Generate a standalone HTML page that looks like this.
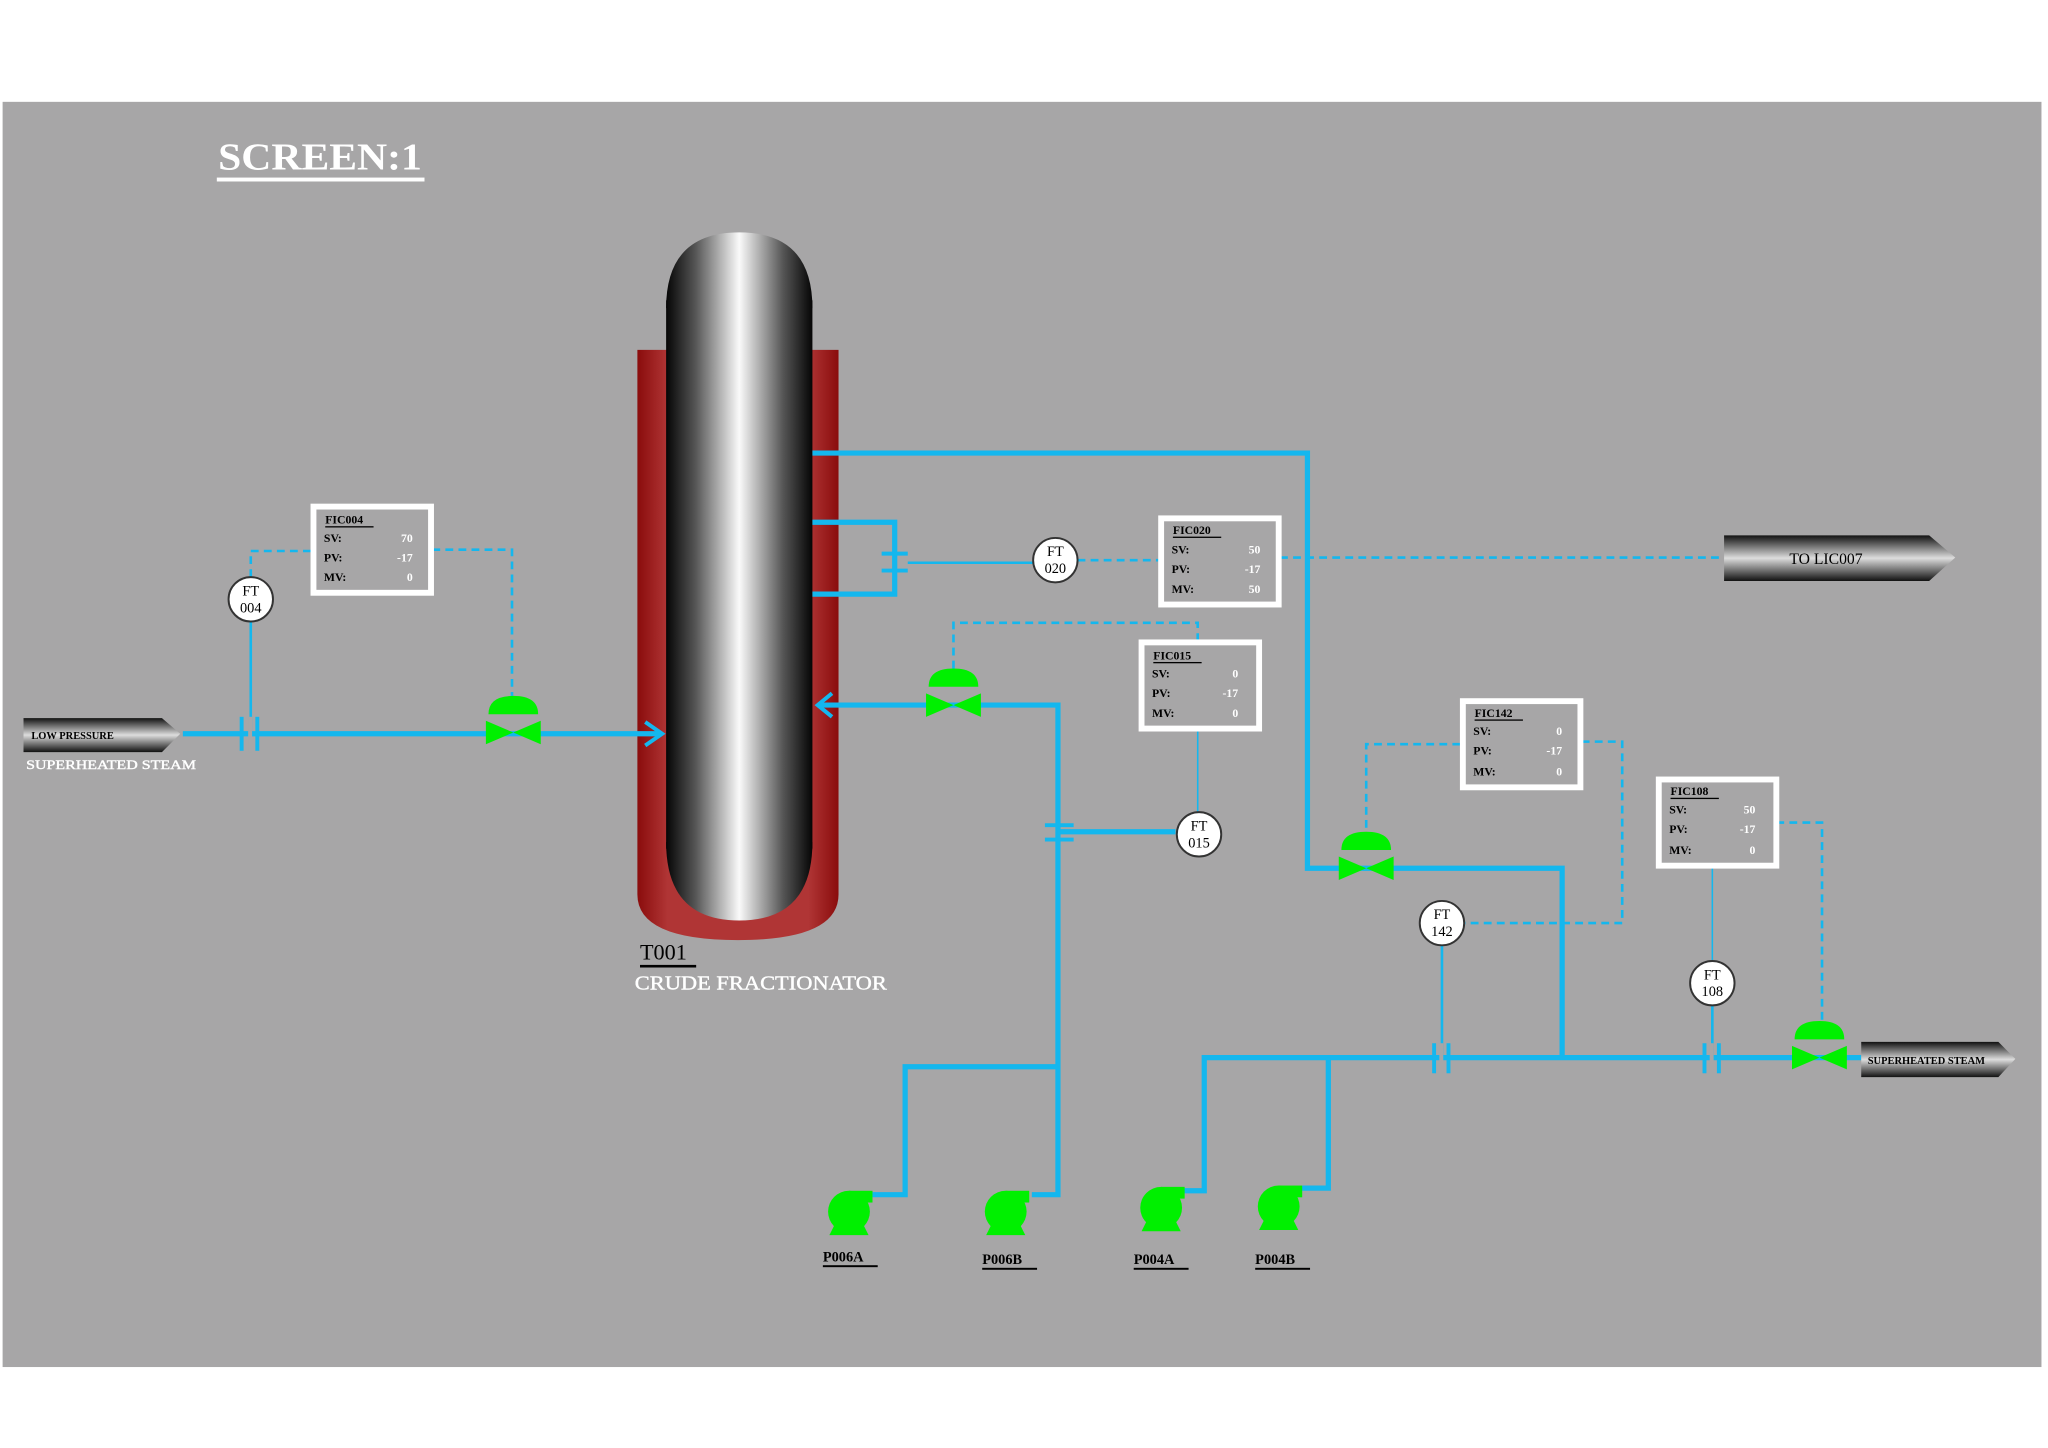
<!DOCTYPE html>
<html><head><meta charset="utf-8"><style>
html,body{margin:0;padding:0;background:#fff;}
svg{display:block;}
text{font-family:"Liberation Serif",serif;}
</style></head><body>
<svg width="2048" height="1448" viewBox="0 0 1568 1109" preserveAspectRatio="none" xmlns="http://www.w3.org/2000/svg">
<defs>
<linearGradient id="vess" x1="0" x2="1" y1="0" y2="0">
<stop offset="0" stop-color="#050505"/><stop offset="0.2" stop-color="#555"/><stop offset="0.5" stop-color="#fafafa"/><stop offset="0.8" stop-color="#555"/><stop offset="1" stop-color="#050505"/></linearGradient>
<linearGradient id="red" x1="0" x2="1"><stop offset="0" stop-color="#8a0c0c"/><stop offset="0.15" stop-color="#b03535"/><stop offset="0.85" stop-color="#b03535"/><stop offset="1" stop-color="#8a0c0c"/></linearGradient>
<linearGradient id="arr" x1="0" x2="0" y1="0" y2="1"><stop offset="0" stop-color="#111"/><stop offset="0.5" stop-color="#ddd"/><stop offset="1" stop-color="#111"/></linearGradient>
</defs>
<rect x="0" y="0" width="1568" height="1109" fill="#fff"/>
<rect x="2" y="78" width="1561" height="969" fill="#a7a6a7"/>

<text x="167" y="130" font-size="29" font-weight="bold" fill="#fff" textLength="156" lengthAdjust="spacingAndGlyphs">SCREEN:1</text>
<rect x="166" y="136" width="159" height="3" fill="#fff"/>

<!-- Tower -->
<path d="M488 268 H642 V685 Q642 720 565 720 Q488 720 488 685 Z" fill="url(#red)"/>
<rect x="510" y="230" width="112" height="420" fill="url(#vess)"/>
<path d="M510 236 Q510 178 566 178 Q622 178 622 236 Z" fill="url(#vess)"/>
<path d="M510 645 Q510 705 566 705 Q622 705 622 645 Z" fill="url(#vess)"/>
<text x="490" y="735" font-size="17" fill="#000">T001</text>
<rect x="490" y="739" width="43" height="2" fill="#000"/>
<text x="486" y="758" font-size="15" fill="#fff" stroke="#fff" stroke-width="0.3" textLength="193" lengthAdjust="spacingAndGlyphs">CRUDE FRACTIONATOR</text>

<g fill="none" stroke="#14b7ee" stroke-width="4">
<path d="M140 562 H505"/>
<path d="M494 553 L507 562 L494 571" stroke-width="3"/>
<path d="M622 347 H1001 V665 H1196 V810"/>
<path d="M622 400 H685 V455 H622"/>
<path d="M626 540 H810 V915 H790"/>
<path d="M637 531 L626 540 L637 549" stroke-width="3"/>
<path d="M810 637 H900"/>
<path d="M810 817 H693 V915 H668"/>
<path d="M905 912 H922 V810 H1425"/>
<path d="M995 910 H1017 V810"/>
</g>
<g fill="none" stroke="#14b7ee" stroke-width="2">
<path d="M192 476 V562"/>
<path d="M695 431 H791"/>
<path d="M1104 724 V810"/>
<path d="M1311 770 V810"/>
</g>
<g fill="none" stroke="#14b7ee" stroke-width="1.2">
<path d="M917 559 V622"/>
<path d="M1311 663 V736"/>
</g>
<g stroke="#14b7ee" stroke-width="3">
<line x1="185" y1="549" x2="185" y2="575"/><line x1="197" y1="549" x2="197" y2="575"/>
<line x1="675" y1="424" x2="695" y2="424"/><line x1="675" y1="437" x2="695" y2="437"/>
<line x1="800" y1="632" x2="822" y2="632"/><line x1="800" y1="643" x2="822" y2="643"/>
<line x1="1098" y1="799" x2="1098" y2="822"/><line x1="1109" y1="799" x2="1109" y2="822"/>
<line x1="1305" y1="799" x2="1305" y2="822"/><line x1="1316" y1="799" x2="1316" y2="822"/>
</g>
<rect x="190" y="549" width="3" height="27" fill="#a7a6a7"/>
<rect x="1102" y="799" width="3" height="24" fill="#a7a6a7"/>
<rect x="1309" y="799" width="3" height="24" fill="#a7a6a7"/>

<g fill="none" stroke="#14b7ee" stroke-width="2" stroke-dasharray="6,4">
<path d="M192 442 V422 H238"/>
<path d="M331 421 H392 V533"/>
<path d="M825 429 H887"/>
<path d="M980 427 H1320"/>
<path d="M730 512 V477 H917 V490"/>
<path d="M1118 570 H1046 V637"/>
<path d="M1211 568 H1242 V707 H1121"/>
<path d="M1360 630 H1395 V782"/>
</g>

<g fill="#00f000">
<g transform="translate(393,561)"><path d="M-21 -9 L0 0 L-21 9 Z M21 -9 L0 0 L21 9 Z"/><path d="M-19 -14 Q-19 -28 0 -28 Q19 -28 19 -14 Z"/></g>
<g transform="translate(730,540)"><path d="M-21 -9 L0 0 L-21 9 Z M21 -9 L0 0 L21 9 Z"/><path d="M-19 -14 Q-19 -28 0 -28 Q19 -28 19 -14 Z"/></g>
<g transform="translate(1046,665)"><path d="M-21 -9 L0 0 L-21 9 Z M21 -9 L0 0 L21 9 Z"/><path d="M-19 -14 Q-19 -28 0 -28 Q19 -28 19 -14 Z"/></g>
<g transform="translate(1393,810)"><path d="M-21 -9 L0 0 L-21 9 Z M21 -9 L0 0 L21 9 Z"/><path d="M-19 -14 Q-19 -28 0 -28 Q19 -28 19 -14 Z"/></g>
</g>

<g stroke="#333" stroke-width="1.5" fill="#fff">
<ellipse cx="192" cy="459" rx="17" ry="17"/>
<ellipse cx="808" cy="429" rx="17" ry="17"/>
<ellipse cx="918" cy="639" rx="17" ry="17"/>
<ellipse cx="1104" cy="707" rx="17" ry="17"/>
<ellipse cx="1311" cy="753" rx="17" ry="17"/>
</g>
<g font-size="11" fill="#000" text-anchor="middle">
<text x="192" y="456">FT</text><text x="192" y="469">004</text>
<text x="808" y="426">FT</text><text x="808" y="439">020</text>
<text x="918" y="636">FT</text><text x="918" y="649">015</text>
<text x="1104" y="704">FT</text><text x="1104" y="717">142</text>
<text x="1311" y="750">FT</text><text x="1311" y="763">108</text>
</g>

<g fill="none" stroke="#fff" stroke-width="4.5">
<rect x="240" y="388" width="90" height="66"/>
<rect x="889" y="397" width="90" height="66"/>
<rect x="874" y="492" width="90" height="66"/>
<rect x="1120" y="537" width="90" height="66"/>
<rect x="1270" y="597" width="90" height="66"/>
</g>
<g font-size="9" font-weight="bold">
<g transform="translate(240,388)"><text x="9" y="13">FIC004</text><rect x="9" y="15" width="37" height="1"/><text x="8" y="27">SV:</text><text x="8" y="42">PV:</text><text x="8" y="57">MV:</text><g fill="#fff" text-anchor="end"><text x="76" y="27">70</text><text x="76" y="42">-17</text><text x="76" y="57">0</text></g></g>
<g transform="translate(889,397)"><text x="9" y="12">FIC020</text><rect x="9" y="14" width="37" height="1"/><text x="8" y="27">SV:</text><text x="8" y="42">PV:</text><text x="8" y="57">MV:</text><g fill="#fff" text-anchor="end"><text x="76" y="27">50</text><text x="76" y="42">-17</text><text x="76" y="57">50</text></g></g>
<g transform="translate(874,492)"><text x="9" y="13">FIC015</text><rect x="9" y="15" width="37" height="1"/><text x="8" y="27">SV:</text><text x="8" y="42">PV:</text><text x="8" y="57">MV:</text><g fill="#fff" text-anchor="end"><text x="74" y="27">0</text><text x="74" y="42">-17</text><text x="74" y="57">0</text></g></g>
<g transform="translate(1120,537)"><text x="9" y="12">FIC142</text><rect x="9" y="14" width="37" height="1"/><text x="8" y="26">SV:</text><text x="8" y="41">PV:</text><text x="8" y="57">MV:</text><g fill="#fff" text-anchor="end"><text x="76" y="26">0</text><text x="76" y="41">-17</text><text x="76" y="57">0</text></g></g>
<g transform="translate(1270,597)"><text x="9" y="12">FIC108</text><rect x="9" y="14" width="37" height="1"/><text x="8" y="26">SV:</text><text x="8" y="41">PV:</text><text x="8" y="57">MV:</text><g fill="#fff" text-anchor="end"><text x="74" y="26">50</text><text x="74" y="41">-17</text><text x="74" y="57">0</text></g></g>
</g>

<path d="M18 550 H124 L138 562 L124 576 H18 Z" fill="url(#arr)"/>
<text x="24" y="566" font-size="8" font-weight="bold" fill="#000">LOW PRESSURE</text>
<text x="20" y="589" font-size="10" fill="#fff" stroke="#fff" stroke-width="0.3" textLength="130" lengthAdjust="spacingAndGlyphs">SUPERHEATED STEAM</text>
<path d="M1320 410 H1477 L1497 427 L1477 445 H1320 Z" fill="url(#arr)"/>
<text x="1398" y="432" font-size="12" fill="#000" text-anchor="middle">TO LIC007</text>
<path d="M1425 798 H1530 L1543 811 L1530 825 H1425 Z" fill="url(#arr)"/>
<text x="1430" y="815" font-size="8" font-weight="bold" fill="#000">SUPERHEATED STEAM</text>

<g fill="#00f000">
<g transform="translate(650,928)"><circle cx="0" cy="0" r="16"/><rect x="0" y="-16" width="18" height="9"/><path d="M-10 8 L10 8 L15 18 L-15 18 Z"/></g>
<g transform="translate(770,928)"><circle cx="0" cy="0" r="16"/><rect x="0" y="-16" width="18" height="9"/><path d="M-10 8 L10 8 L15 18 L-15 18 Z"/></g>
<g transform="translate(889,925)"><circle cx="0" cy="0" r="16"/><rect x="0" y="-16" width="18" height="9"/><path d="M-10 8 L10 8 L15 18 L-15 18 Z"/></g>
<g transform="translate(979,924)"><circle cx="0" cy="0" r="16"/><rect x="0" y="-16" width="18" height="9"/><path d="M-10 8 L10 8 L15 18 L-15 18 Z"/></g>
</g>
<g font-size="11" font-weight="bold" fill="#000">
<text x="630" y="966">P006A</text><rect x="630" y="969" width="42" height="1.5"/>
<text x="752" y="968">P006B</text><rect x="752" y="971" width="42" height="1.5"/>
<text x="868" y="968">P004A</text><rect x="868" y="971" width="42" height="1.5"/>
<text x="961" y="968">P004B</text><rect x="961" y="971" width="42" height="1.5"/>
</g>
</svg>
</body></html>
